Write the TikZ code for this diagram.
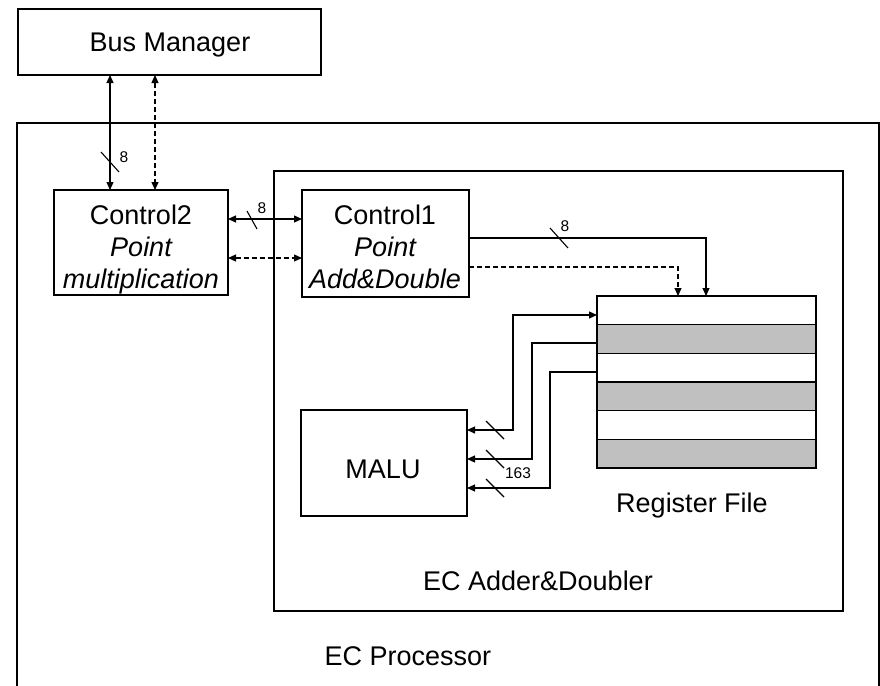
\documentclass[tikz,border=0pt]{standalone}
\usepackage{fontspec}
\setmainfont{Liberation Sans}
\usetikzlibrary{arrows.meta}
\definecolor{regfill}{HTML}{C0C0C0}
\begin{document}
\begin{tikzpicture}[x=1pt,y=-1pt,line width=1.1pt,
  box/.style={draw,inner sep=0pt,outer sep=0pt,anchor=north west},
  big/.style={font=\fontsize{27}{32}\selectfont,inner sep=0pt,anchor=base},
  bigit/.style={big,font=\fontsize{27}{32}\selectfont\itshape},
  small/.style={font=\fontsize{15.5}{18}\selectfont,inner sep=0pt,anchor=base},
  bus/.style={-{Triangle[length=8pt,width=7pt]}},
  bibus/.style={{Triangle[length=8pt,width=7pt]}-{Triangle[length=8pt,width=7pt]}},
  dsh/.style={dash pattern=on 5pt off 3pt},
  slash/.style={line width=1.1pt}]
\useasboundingbox (0,0) rectangle (880,685);

% processor frame (open at the bottom)
\begin{scope}
  \clip (0,0) rectangle (880,685);
  \draw (17,700) -- (17,123) -- (879,123) -- (879,700);
\end{scope}
\node[big] (proclbl) at (408,665) {EC Processor};

% adder/doubler frame
\node[box,minimum width=569pt,minimum height=440pt] (add) at (274,171) {};
\node[big] (addlbl) at (538,590) {EC Adder\&Doubler};

% bus manager
\node[box,minimum width=303pt,minimum height=66pt] (busm) at (18,9) {};
\node[big] (buslbl) at (170,52) {Bus Manager};

% control units
\node[box,minimum width=174pt,minimum height=105pt] (c2) at (54,190) {};
\node[big]   (c2a) at (141,224) {Control2};
\node[bigit] (c2b) at (141,256) {Point};
\node[bigit] (c2c) at (141,288) {multiplication};

\node[box,minimum width=167pt,minimum height=107pt] (c1) at (302,190) {};
\node[big]   (c1a) at (385,224) {Control1};
\node[bigit] (c1b) at (385,256) {Point};
\node[bigit] (c1c) at (385,288) {Add\&Double};

% MALU
\node[box,minimum width=166pt,minimum height=106pt] (malu) at (301,410) {};
\node[big] (malulbl) at (383,478) {MALU};

% register file
\foreach \i/\c in {0/white,1/regfill,2/white,3/regfill,4/white,5/regfill}
  \filldraw[fill=\c] (597,296+28.67*\i) rectangle (816,296+28.67*\i+28.67);
\node[box,minimum width=219pt,minimum height=172pt] (reg) at (597,296) {};
\node[big] (reglbl) at (692,512) {Register File};

% connector positions
\coordinate (xa) at (110,0);
\coordinate (xb) at (155,0);
\coordinate (ya) at (0,219);
\coordinate (yb) at (0,258);
\coordinate (yc) at (0,238);
\coordinate (yd) at (0,267);
\coordinate (xc) at (706,0);
\coordinate (xd) at (678,0);

% bus manager <-> control2
\draw[bibus] (busm.south -| xa) -- (c2.north -| xa);
\draw[bibus,dsh] (busm.south -| xb) -- (c2.north -| xb);
\coordinate (s1) at (110,162);
\draw[slash] ([shift={(-9,-10)}]s1) -- ([shift={(9,10)}]s1);
\node[small] (l1) at (124,162) {8};

% control2 <-> control1
\draw[bibus] (c2.east |- ya) -- (c1.west |- ya);
\draw[bibus,dsh] (c2.east |- yb) -- (c1.west |- yb);
\coordinate (s2) at (252,220);
\draw[slash] ([shift={(-5,-9)}]s2) -- ([shift={(5,9)}]s2);
\node[small] (l2) at (262,213) {8};

% control1 -> register file
\draw[bus] (c1.east |- yc) -| (reg.north -| xc);
\draw[bus,dsh] (c1.east |- yd) -| (reg.north -| xd);
\coordinate (s3) at (559,238);
\draw[slash] ([shift={(-9,-10)}]s3) -- ([shift={(9,10)}]s3);
\node[small] (l3) at (565,231) {8};

% register file <-> MALU
\coordinate (r1) at (0,315);
\coordinate (r2) at (0,343);
\coordinate (r3) at (0,372);
\coordinate (m1) at (0,430);
\coordinate (m2) at (0,459);
\coordinate (m3) at (0,488);
\draw[bibus] (reg.west |- r1) -- (513,315) -- (513,430) -- (malu.east |- m1);
\draw[bus] (reg.west |- r2) -- (532,343) -- (532,459) -- (malu.east |- m2);
\draw[bus] (reg.west |- r3) -- (550,372) -- (550,488) -- (malu.east |- m3);
\foreach \yy in {430,459,488}
  \draw[slash] (486,\yy-9) -- (504,\yy+9);
\node[small] (l4) at (518,478) {163};
\end{tikzpicture}
\end{document}
